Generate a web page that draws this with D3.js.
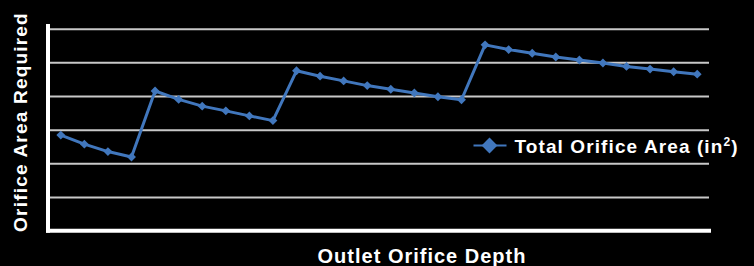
<!DOCTYPE html>
<html lang="en">
<head>
<meta charset="UTF-8">
<script src="https://cdn.jsdelivr.net/npm/d3@7"></script>
<style>
  html, body { margin: 0; padding: 0; background: #000; }
  svg { display: block; }
  text { font-family: 'Liberation Sans', Arial, Helvetica, sans-serif; font-weight: bold; fill: #fff; }
</style>
</head>
<body>
<svg id="chart" width="754" height="266"></svg>
<script>
// depth steps (28 readings, no labels shown on the axis)
const depths = d3.range(1, 29);

// total orifice area (arbitrary units, axis unlabeled)
const areas = [
  28.4, 25.7, 23.5, 21.9,
  41.5, 39.0, 37.0, 35.6, 34.1, 32.7,
  47.5, 45.9, 44.5, 43.1, 42.0, 40.9, 39.8, 38.9,
  55.2, 53.8, 52.7, 51.6, 50.7, 49.8, 48.8, 48.0, 47.2, 46.5
];

const yTicks = [10, 20, 30, 40, 50, 60];
const seriesName = 'Total Orifice Area (in';

const margin = { top: 28.7, right: 45, bottom: 35.3, left: 49 };
const width = 754, height = 266;

const svg = d3.select('#chart');

const x = d3.scaleBand()
  .domain(depths)
  .range([margin.left, width - margin.right]);

const y = d3.scaleLinear()
  .domain([0, 60])
  .range([height - margin.bottom, margin.top]);

// gridlines
svg.append('g')
  .attr('transform', `translate(${margin.left},0)`)
  .call(d3.axisLeft(y).tickValues(yTicks).tickSize(-(width - margin.right - margin.left)).tickFormat(''))
  .call(g => g.select('.domain').remove())
  .call(g => g.selectAll('.tick line').attr('stroke', '#c8c8c8').attr('stroke-width', 2));

// axis lines
svg.append('line')
  .attr('x1', margin.left - 1).attr('x2', margin.left - 1)
  .attr('y1', 24).attr('y2', y(0) + 2)
  .attr('stroke', '#fff').attr('stroke-width', 4);

svg.append('line')
  .attr('x1', margin.left - 3).attr('x2', width - margin.right + 2)
  .attr('y1', y(0)).attr('y2', y(0))
  .attr('stroke', '#fff').attr('stroke-width', 4);

const cx = d => x(d) + x.bandwidth() / 2;
const blue = '#4177bd';

const line = d3.line()
  .x((d, i) => cx(depths[i]))
  .y(d => y(d));

svg.append('path')
  .datum(areas)
  .attr('fill', 'none')
  .attr('stroke', blue)
  .attr('stroke-width', 3)
  .attr('stroke-linejoin', 'round')
  .attr('d', line);

const diamond = d3.symbol().type(d3.symbolDiamond2).size(50);

svg.append('g')
  .selectAll('path')
  .data(areas)
  .join('path')
  .attr('transform', (d, i) => `translate(${cx(depths[i])},${y(d)})`)
  .attr('d', diamond)
  .attr('fill', blue);

// legend
const lg = svg.append('g').attr('transform', 'translate(489.5,145.5)');
lg.append('line').attr('x1', -16).attr('x2', 17).attr('stroke', blue).attr('stroke-width', 2);
lg.append('path').attr('d', d3.symbol().type(d3.symbolDiamond2).size(160)).attr('fill', blue);
const lt = lg.append('text').attr('x', 25).attr('y', 7).attr('font-size', 19).attr('letter-spacing', 1.1);
lt.append('tspan').text(seriesName);
lt.append('tspan').attr('font-size', 12).attr('dy', -7).text('2');
lt.append('tspan').attr('dy', 7).text(')');

// axis titles
svg.append('text')
  .attr('transform', 'translate(27,122) rotate(-90)')
  .attr('text-anchor', 'middle')
  .attr('font-size', 19)
  .attr('letter-spacing', 1.2)
  .text('Orifice Area Required');

svg.append('text')
  .attr('x', 422).attr('y', 263)
  .attr('text-anchor', 'middle')
  .attr('font-size', 20)
  .attr('letter-spacing', 1)
  .text('Outlet Orifice Depth');
</script>
</body>
</html>
